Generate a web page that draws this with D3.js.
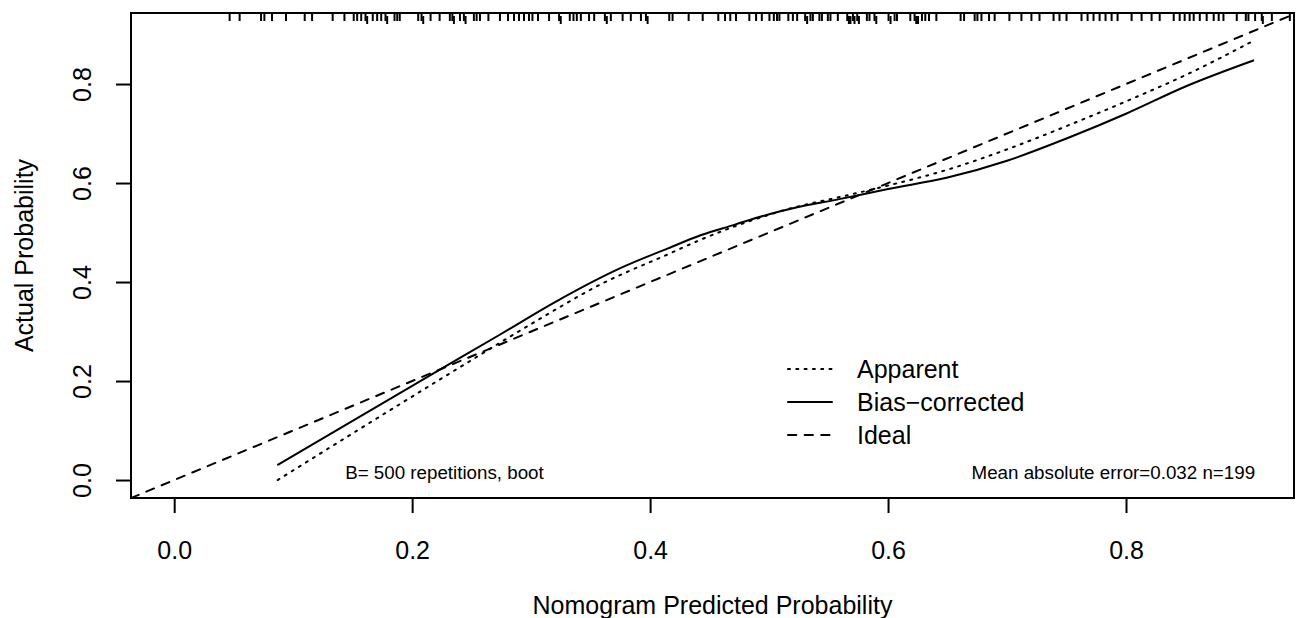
<!DOCTYPE html>
<html>
<head>
<meta charset="utf-8">
<script src="https://cdn.jsdelivr.net/npm/d3@7"></script>
<style>
  body { margin: 0; background: #fff; }
  text { font-family: "Liberation Sans", Arial, Helvetica, sans-serif; fill: #000; }
</style>
</head>
<body>
<svg id="chart" width="1296" height="618"></svg>
<script>
// axis ticks
const tickValues = [0, 0.2, 0.4, 0.6, 0.8]
const tickLabels = ["0.0", "0.2", "0.4", "0.6", "0.8"]

// apparent calibration curve (dotted)
const apparentX = [0.087, 0.1955, 0.247, 0.302, 0.359, 0.415, 0.443, 0.48, 0.52, 0.56, 0.60, 0.65, 0.70, 0.75, 0.80, 0.85, 0.9076]
const apparentY = [0.000, 0.162, 0.238, 0.318, 0.396, 0.456, 0.486, 0.520, 0.550, 0.572, 0.595, 0.627, 0.668, 0.715, 0.765, 0.818, 0.888]

// bias-corrected curve (solid)
const biasX = [0.0867, 0.180, 0.224, 0.274, 0.319, 0.375, 0.415, 0.443, 0.47, 0.50, 0.52, 0.56, 0.60, 0.65, 0.70, 0.75, 0.80, 0.85, 0.9076]
const biasY = [0.030, 0.162, 0.224, 0.294, 0.358, 0.428, 0.468, 0.495, 0.515, 0.537, 0.549, 0.568, 0.588, 0.611, 0.645, 0.690, 0.740, 0.795, 0.848]

// predicted probabilities shown as a rug on top
const rugX = [0.0466, 0.0550, 0.0730, 0.0758, 0.0822, 0.0940, 0.1097, 0.1159, 0.1332, 0.1431,
  0.1509, 0.1538, 0.1572, 0.1608, 0.1622, 0.1669, 0.1706, 0.1740, 0.1776, 0.1790,
  0.1852, 0.1875, 0.1896, 0.2051, 0.2079, 0.2093, 0.2155, 0.2231, 0.2317, 0.2338,
  0.2351, 0.2402, 0.2435, 0.2449, 0.2519, 0.2542, 0.2570, 0.2641, 0.2738, 0.2806,
  0.2856, 0.2898, 0.2940, 0.2982, 0.3011, 0.3058, 0.3151, 0.3235, 0.3249, 0.3325,
  0.3356, 0.3384, 0.3418, 0.3487, 0.3530, 0.3620, 0.3636, 0.3670, 0.3769, 0.3838,
  0.3923, 0.3965, 0.3979, 0.4161, 0.4189, 0.4324, 0.4442, 0.4573, 0.4630, 0.4674,
  0.4722, 0.4834, 0.4891, 0.4939, 0.5003, 0.5040, 0.5067, 0.5087, 0.5162, 0.5200,
  0.5236, 0.5303, 0.5320, 0.5348, 0.5368, 0.5423, 0.5444, 0.5494, 0.5516, 0.5578,
  0.5657, 0.5671, 0.5684, 0.5705, 0.5718, 0.5741, 0.5755, 0.5822, 0.5844, 0.5886,
  0.5901, 0.6004, 0.6021, 0.6055, 0.6075, 0.6187, 0.6223, 0.6237, 0.6252, 0.6285,
  0.6313, 0.6344, 0.6406, 0.6610, 0.6639, 0.6728, 0.6751, 0.6785, 0.6849, 0.6896,
  0.7020, 0.7121, 0.7205, 0.7273, 0.7391, 0.7441, 0.7500, 0.7626, 0.7677, 0.7727,
  0.7778, 0.7828, 0.7879, 0.7929, 0.8047, 0.8131, 0.8215, 0.8283, 0.8401, 0.8451,
  0.8493, 0.8535, 0.8569, 0.8620, 0.8678, 0.8737, 0.8779, 0.8819, 0.8931, 0.9007,
  0.9029, 0.9085, 0.9141, 0.9150, 0.9226, 0.9377]

const legendLabels = ["Apparent", "Bias\u2212corrected", "Ideal"]
const legendDash = ["2,6.3", null, "8.3,8.3"]
const xTitle = "Nomogram Predicted Probability"
const yTitle = "Actual Probability"
const subLeft = "B= 500 repetitions, boot"
const subRight = "Mean absolute error=0.032 n=199"

const svg = d3.select("#chart")
const margin = {left: 131, top: 13, right: 2, bottom: 120}
const W = 1296, H = 618
const width = W - margin.left - margin.right
const height = H - margin.top - margin.bottom

const x = d3.scaleLinear().domain([-0.0363, 0.9412]).range([margin.left, margin.left + width])
const y = d3.scaleLinear().domain([-0.0363, 0.9435]).range([margin.top + height, margin.top])

const g = svg.append("g")

// clip to plot region
svg.append("clipPath").attr("id", "clip").append("rect")
  .attr("x", margin.left).attr("y", margin.top).attr("width", width).attr("height", height)

const plot = g.append("g").attr("clip-path", "url(#clip)")

// ideal line
plot.append("line")
  .attr("x1", x(-0.0363)).attr("y1", y(-0.0363))
  .attr("x2", x(0.9435)).attr("y2", y(0.9435))
  .attr("stroke", "#000").attr("stroke-width", 2)
  .attr("stroke-dasharray", legendDash[2]).attr("stroke-linecap", "round")

const line = d3.line().x(d => x(d[0])).y(d => y(d[1])).curve(d3.curveMonotoneX)

plot.append("path")
  .datum(apparentX.map((v, i) => [v, apparentY[i]]))
  .attr("d", line).attr("fill", "none").attr("stroke", "#000")
  .attr("stroke-width", 2).attr("stroke-dasharray", legendDash[0]).attr("stroke-linecap", "round")

plot.append("path")
  .datum(biasX.map((v, i) => [v, biasY[i]]))
  .attr("d", line).attr("fill", "none").attr("stroke", "#000")
  .attr("stroke-width", 2)

// rug (ties pushed down a little, like scat1d)
plot.selectAll(".rug").data(rugX).enter().append("line")
  .attr("class", "rug")
  .attr("x1", d => x(d)).attr("x2", d => x(d))
  .attr("y1", (d, i) => margin.top + (i > 0 && d - rugX[i - 1] < 0.002 ? 3 : 0))
  .attr("y2", (d, i) => margin.top + 8 + (i > 0 && d - rugX[i - 1] < 0.002 ? 3 : 0))
  .attr("stroke", "#000").attr("stroke-width", 2)

// box
g.append("rect")
  .attr("x", margin.left).attr("y", margin.top).attr("width", width).attr("height", height)
  .attr("fill", "none").attr("stroke", "#000").attr("stroke-width", 2)

// x axis
const xAxis = g.append("g").attr("transform", `translate(0,${margin.top + height})`)
  .call(d3.axisBottom(x).tickValues(tickValues).tickFormat((d, i) => tickLabels[i]).tickSize(15).tickPadding(28))
xAxis.select(".domain").attr("d", `M${x(0)},0H${x(0.8)}`).attr("stroke-width", 2)
xAxis.selectAll(".tick line").attr("stroke-width", 2)
xAxis.selectAll(".tick text").attr("font-size", 25).attr("font-family", "Liberation Sans, Arial, sans-serif")

// y axis
const yAxis = g.append("g").attr("transform", `translate(${margin.left},0)`)
  .call(d3.axisLeft(y).tickValues(tickValues).tickFormat((d, i) => tickLabels[i]).tickSize(15))
yAxis.select(".domain").attr("d", `M0,${y(0)}V${y(0.8)}`).attr("stroke-width", 2)
yAxis.selectAll(".tick line").attr("stroke-width", 2)
yAxis.selectAll(".tick text")
  .attr("x", null).attr("dy", null)
  .attr("font-size", 25).attr("font-family", "Liberation Sans, Arial, sans-serif")
  .attr("text-anchor", "middle")
  .attr("transform", "translate(-49,0) rotate(-90)")
  .attr("dominant-baseline", "central")

// titles
svg.append("text").attr("x", margin.left + width / 2).attr("y", 605)
  .attr("text-anchor", "middle").attr("dominant-baseline", "central")
  .attr("font-size", 25).text(xTitle)

svg.append("text")
  .attr("transform", `translate(24,${margin.top + height / 2}) rotate(-90)`)
  .attr("text-anchor", "middle").attr("dominant-baseline", "central")
  .attr("font-size", 25).text(yTitle)

// subtitles inside plot
svg.append("text").attr("x", x(0.1437)).attr("y", y(0.0147))
  .attr("dominant-baseline", "central").attr("font-size", 18.75).text(subLeft)
svg.append("text").attr("x", x(0.9085)).attr("y", y(0.0147))
  .attr("text-anchor", "end").attr("dominant-baseline", "central").attr("font-size", 18.75).text(subRight)

// legend
const legend = svg.append("g").selectAll("g").data(legendLabels).enter().append("g")
  .attr("transform", (d, i) => `translate(0,${369 + i * 33})`)
legend.append("line")
  .attr("x1", 788).attr("x2", 832).attr("y1", 0).attr("y2", 0)
  .attr("stroke", "#000").attr("stroke-width", 2).attr("stroke-linecap", "round")
  .attr("stroke-dasharray", (d, i) => legendDash[i])
legend.append("text").attr("x", 857).attr("dominant-baseline", "central")
  .attr("font-size", 25).text(d => d)
</script>
</body>
</html>
